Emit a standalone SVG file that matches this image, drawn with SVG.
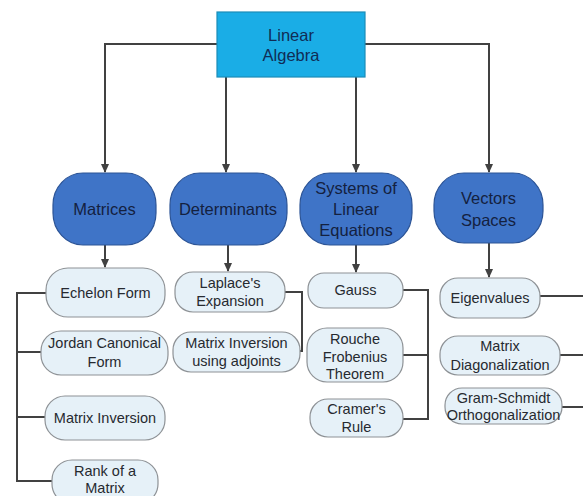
<svg xmlns="http://www.w3.org/2000/svg" width="583" height="496" viewBox="0 0 583 496">
<style>
.root{fill:#1AADE6;stroke:#1C8DB8;stroke-width:1.2}
.big{fill:#3F74C7;stroke:#2C5496;stroke-width:1.2}
.small{fill:#E6F1F8;stroke:#8E9296;stroke-width:1.2}
.t{font-family:"Liberation Sans",Arial,sans-serif;text-anchor:middle;fill:#1B2240}
.tr{font-size:16.5px;fill:#102C55}
.tb{font-size:16.5px;fill:#14213F}
.ts{font-size:14.5px;fill:#262A30}
.c{fill:none;stroke:#414141;stroke-width:2}
</style>
<defs>
<marker id="ah" markerWidth="10" markerHeight="10" refX="8" refY="5" orient="auto" markerUnits="userSpaceOnUse">
<path d="M0,1 L9,5 L0,9 Z" fill="#414141"/>
</marker>
</defs>
<rect width="583" height="496" fill="#FFFFFF"/>
<g id="connectors">
<path class="c" d="M217,44 H105 V172" marker-end="url(#ah)"/>
<path class="c" d="M226,77 V172" marker-end="url(#ah)"/>
<path class="c" d="M356,77 V172" marker-end="url(#ah)"/>
<path class="c" d="M365,44 H489 V172" marker-end="url(#ah)"/>
<path class="c" d="M105,245 V267" marker-end="url(#ah)"/>
<path class="c" d="M228,245 V271" marker-end="url(#ah)"/>
<path class="c" d="M356,245 V272" marker-end="url(#ah)"/>
<path class="c" d="M489,243 V277" marker-end="url(#ah)"/>
<path class="c" d="M46,293 H17 V481 H52 M17,352 H41 M17,417 H45"/>
<path class="c" d="M285,292 H302 V351 H299"/>
<path class="c" d="M403,290 H428 V419 H403 M428,355 H403"/>
<path class="c" d="M540,296 H590 M560,355 H590 M562,407 H590"/>
</g>
<g id="linear-algebra">
<rect class="root" x="217" y="12" width="148" height="65"/>
<text class="t tr" x="291" y="41">Linear</text>
<text class="t tr" x="291" y="61">Algebra</text>
</g>
<g id="matrices">
<rect class="big" x="53" y="173" width="103" height="72" rx="30" ry="32"/>
<text class="t tb" x="104.5" y="215">Matrices</text>
</g>
<g id="determinants">
<rect class="big" x="170" y="173" width="117" height="72" rx="30" ry="32"/>
<text class="t tb" x="228" y="215">Determinants</text>
</g>
<g id="systems">
<rect class="big" x="300" y="173" width="112" height="72" rx="30" ry="32"/>
<text class="t tb" x="356" y="194">Systems of</text>
<text class="t tb" x="356" y="215">Linear</text>
<text class="t tb" x="356" y="236">Equations</text>
</g>
<g id="vectors-spaces">
<rect class="big" x="434" y="173" width="109" height="70" rx="30" ry="32"/>
<text class="t tb" x="488.5" y="204">Vectors</text>
<text class="t tb" x="488.5" y="226">Spaces</text>
</g>
<g id="echelon-form">
<rect class="small" x="46" y="268" width="119" height="49" rx="22" ry="22"/>
<text class="t ts" x="105.5" y="298">Echelon Form</text>
</g>
<g id="jordan">
<rect class="small" x="41" y="331" width="127" height="44" rx="20" ry="20"/>
<text class="t ts" x="104.5" y="348">Jordan Canonical</text>
<text class="t ts" x="104.5" y="367">Form</text>
</g>
<g id="matrix-inversion">
<rect class="small" x="45" y="396" width="120" height="44" rx="20" ry="20"/>
<text class="t ts" x="105" y="423">Matrix Inversion</text>
</g>
<g id="rank">
<rect class="small" x="52" y="460" width="106" height="44" rx="20" ry="20"/>
<text class="t ts" x="105" y="476">Rank of a</text>
<text class="t ts" x="105" y="493">Matrix</text>
</g>
<g id="laplace">
<rect class="small" x="175" y="272" width="110" height="40" rx="18" ry="18"/>
<text class="t ts" x="230" y="288">Laplace's</text>
<text class="t ts" x="230" y="306">Expansion</text>
</g>
<g id="matrix-inversion-adjoints">
<rect class="small" x="173" y="332" width="127" height="40" rx="18" ry="18"/>
<text class="t ts" x="236.5" y="348">Matrix Inversion</text>
<text class="t ts" x="236.5" y="366">using adjoints</text>
</g>
<g id="gauss">
<rect class="small" x="308" y="273" width="95" height="35" rx="16" ry="16"/>
<text class="t ts" x="355.5" y="295">Gauss</text>
</g>
<g id="rouche">
<rect class="small" x="307" y="328" width="96" height="54" rx="20" ry="20"/>
<text class="t ts" x="355" y="344">Rouche</text>
<text class="t ts" x="355" y="362">Frobenius</text>
<text class="t ts" x="355" y="379">Theorem</text>
</g>
<g id="cramer">
<rect class="small" x="310" y="399" width="93" height="38" rx="18" ry="18"/>
<text class="t ts" x="356.5" y="414">Cramer's</text>
<text class="t ts" x="356.5" y="432">Rule</text>
</g>
<g id="eigenvalues">
<rect class="small" x="440" y="278" width="100" height="40" rx="18" ry="18"/>
<text class="t ts" x="490" y="303">Eigenvalues</text>
</g>
<g id="diagonalization">
<rect class="small" x="440" y="336" width="120" height="39" rx="18" ry="18"/>
<text class="t ts" x="500" y="351">Matrix</text>
<text class="t ts" x="500" y="370">Diagonalization</text>
</g>
<g id="gram-schmidt">
<rect class="small" x="445" y="388" width="117" height="36" rx="17" ry="17"/>
<text class="t ts" x="503.5" y="403">Gram-Schmidt</text>
<text class="t ts" x="503.5" y="420">Orthogonalization</text>
</g>
</svg>
